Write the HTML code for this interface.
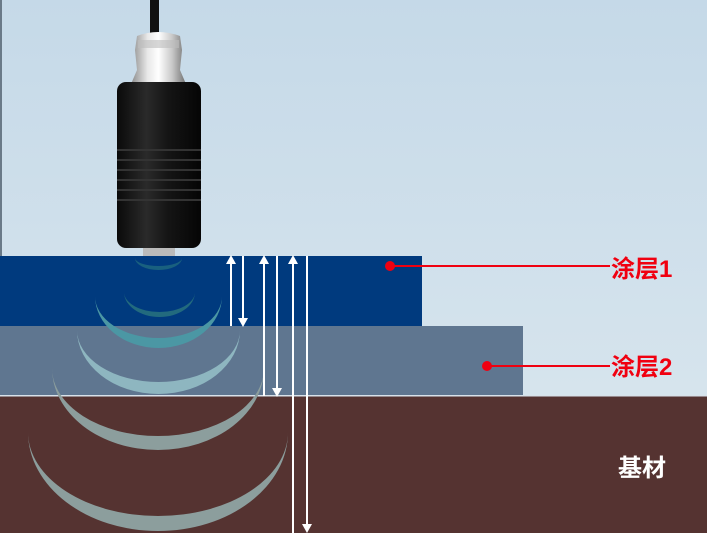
<!DOCTYPE html>
<html><head><meta charset="utf-8"><style>
html,body{margin:0;padding:0;width:707px;height:533px;overflow:hidden}
</style></head><body>
<svg width="707" height="533" viewBox="0 0 707 533" xmlns="http://www.w3.org/2000/svg">
<defs>
<linearGradient id="sky" x1="0" y1="0" x2="0" y2="1">
<stop offset="0" stop-color="#c5d9e8"/><stop offset="1" stop-color="#dce8ef"/></linearGradient>
<linearGradient id="metal" x1="0" y1="0" x2="1" y2="0">
<stop offset="0" stop-color="#8a8a8a"/><stop offset="0.3" stop-color="#e8e8e8"/><stop offset="0.5" stop-color="#ffffff"/><stop offset="0.75" stop-color="#c8c8c8"/><stop offset="1" stop-color="#707070"/></linearGradient>
<linearGradient id="blk" x1="0" y1="0" x2="1" y2="0">
<stop offset="0" stop-color="#0a0a0a"/><stop offset="0.35" stop-color="#2a2a2a"/><stop offset="0.6" stop-color="#151515"/><stop offset="1" stop-color="#050505"/></linearGradient>
</defs>
<rect width="707" height="533" fill="url(#sky)"/>
<rect x="0" y="0" width="2" height="256" fill="#6a7a88"/>
<rect x="0" y="256" width="422" height="70" fill="#003a7e"/>
<rect x="0" y="326" width="523" height="70" fill="#5f7690"/>
<rect x="0" y="396" width="707" height="137" fill="#553331"/>
<rect x="0" y="395" width="707" height="1.5" fill="#d8e2ea"/>

<g>
<path d="M135,258 A23.5,8 0 0 0 182,258 A23.5,12 0 0 1 135,258Z" fill="#1f6a80" opacity="0.8"/>
<path d="M124,292 A35.5,20 0 0 0 195,292 A35.5,25 0 0 1 124,292Z" fill="#226a7e"/>
<path d="M95,296 A63.5,42 0 0 0 222,296 A63.5,52 0 0 1 95,296Z" fill="#4b97a4"/>
<path d="M77,330 A81.5,52 0 0 0 240,330 A81.5,64 0 0 1 77,330Z" fill="#8eb6c0"/>
<path d="M52,368 A106,68 0 0 0 264,368 A106,82 0 0 1 52,368Z" fill="#8c9e9d"/>
<path d="M28,432 A130,84 0 0 0 288,432 A130,99 0 0 1 28,432Z" fill="#8c9e9d"/>
</g>

<rect x="150" y="0" width="9" height="36" fill="#111"/>
<path d="M137,36 Q158,28 180,36 L182,50 L180,70 L186,84 L131,84 L137,70 L135,50 Z" fill="url(#metal)"/>
<rect x="138" y="40" width="41" height="8" fill="#bdbdbd" opacity="0.6"/>
<rect x="117" y="82" width="84" height="166" rx="9" fill="url(#blk)"/>
<g stroke="#333" stroke-width="2">
<line x1="117" y1="150" x2="201" y2="150"/><line x1="117" y1="160" x2="201" y2="160"/>
<line x1="117" y1="170" x2="201" y2="170"/><line x1="117" y1="180" x2="201" y2="180"/>
<line x1="117" y1="190" x2="201" y2="190"/><line x1="117" y1="200" x2="201" y2="200"/>
</g>
<rect x="143" y="248" width="32" height="8" fill="#bbb"/>

<g stroke="#fff" stroke-width="2" fill="#fff">
<line x1="231" y1="326" x2="231" y2="262"/><path d="M226,264 L231,255 L236,264Z" stroke="none"/>
<line x1="243" y1="256" x2="243" y2="320"/><path d="M238,318 L243,327 L248,318Z" stroke="none"/>
<line x1="264" y1="396" x2="264" y2="262"/><path d="M259,264 L264,255 L269,264Z" stroke="none"/>
<line x1="277" y1="256" x2="277" y2="390"/><path d="M272,388 L277,397 L282,388Z" stroke="none"/>
<line x1="293" y1="533" x2="293" y2="262"/><path d="M288,264 L293,255 L298,264Z" stroke="none"/>
<line x1="307" y1="256" x2="307" y2="526"/><path d="M302,524 L307,533 L312,524Z" stroke="none"/>
</g>

<g fill="#f00010" stroke="#f00010">
<circle cx="390" cy="266" r="5" stroke="none"/>
<line x1="390" y1="266" x2="610" y2="266" stroke-width="2"/>
<circle cx="487" cy="366" r="5" stroke="none"/>
<line x1="487" y1="366" x2="610" y2="366" stroke-width="2"/>
</g>
<g font-family="'Liberation Sans','Noto Sans CJK SC',sans-serif" font-weight="bold" font-size="24">
<text x="611" y="277" fill="#f00010">涂层1</text>
<text x="611" y="375" fill="#f00010">涂层2</text>
<text x="618" y="476" fill="#fff">基材</text>
</g>
</svg>
</body></html>
